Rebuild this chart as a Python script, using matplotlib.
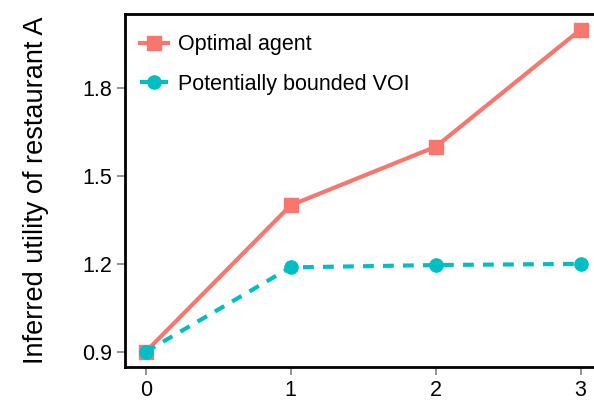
"""
Inferred utility of restaurant A: optimal agent vs potentially bounded VOI
"""

from matplotlib import pyplot as plt

steps = [0, 1, 2, 3]
optimal_agent = [0.9, 1.4, 1.6, 2.0]
bounded_voi = [0.9, 1.188, 1.196, 1.2]
y_ticks = [0.9, 1.2, 1.5, 1.8]

SALMON = '#F8766D'
TEAL = '#00BFC4'

plt.rcParams['font.family'] = ['Liberation Sans', 'DejaVu Sans']

fig = plt.figure(figsize=(5.94, 4.03), dpi=100)
ax = fig.add_axes([125 / 594, 1 - 367 / 403, 1 - 125 / 594, (367 - 14) / 403])

ax.plot(steps, optimal_agent, color=SALMON, lw=3, marker='s',
        markersize=10, label='Optimal agent', zorder=3)
ax.plot(steps, bounded_voi, color=TEAL, lw=3, marker='o',
        markersize=9.5, linestyle=(0, (2.6, 2.2)),
        label='Potentially bounded VOI', zorder=4)

ax.set_xlim(-0.143, 3.092)
ax.set_ylim(0.848, 2.053)
ax.set_xticks(steps)
ax.set_yticks(y_ticks)
ax.set_yticklabels(['0.9', '1.2', '1.5', '1.8'])
ax.set_ylabel('Inferred utility of restaurant A', fontsize=19.5, labelpad=24)

ax.tick_params(axis='both', labelsize=15.5, length=6, width=1.2,
               color='#808080', direction='out', pad=3)
for side in ['left', 'bottom', 'top']:
    ax.spines[side].set_linewidth(2)
ax.spines['right'].set_visible(False)

ax.legend(loc='upper left', bbox_to_anchor=(0, 0.985), frameon=False,
          fontsize=15.5, handlelength=1.3, labelspacing=0.85,
          borderaxespad=0.3, handletextpad=0.45)

fig.savefig('out.png', dpi=100)
